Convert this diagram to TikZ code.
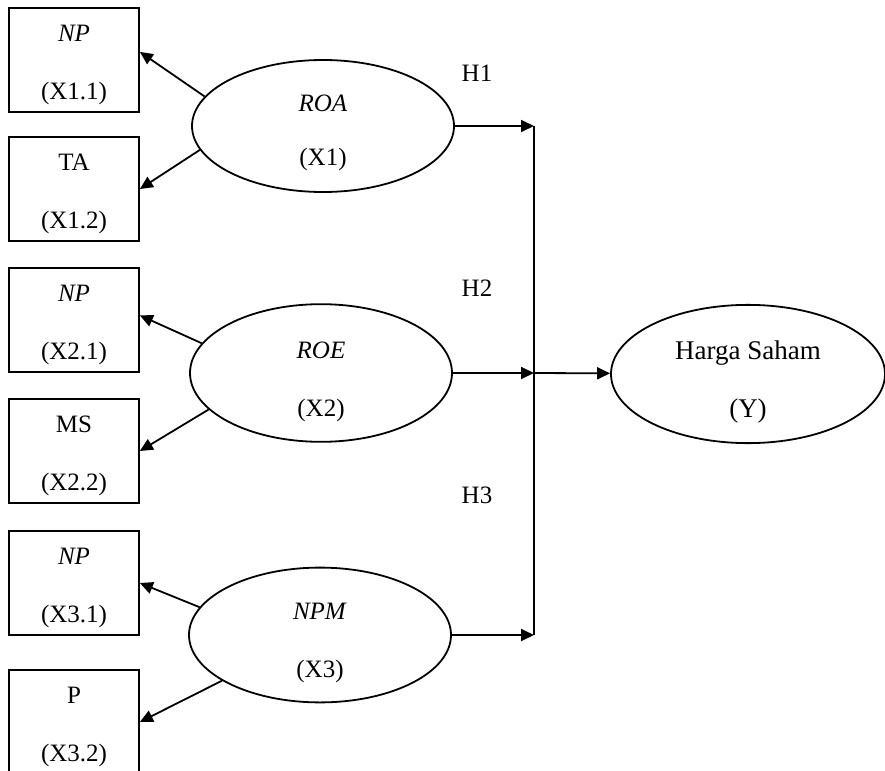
\documentclass[tikz,border=0pt]{standalone}
\usepackage{fontspec}
\setmainfont{Liberation Serif}
\usetikzlibrary{shapes.geometric,arrows.meta}
\newcommand{\lowr}[1]{\rule{0pt}{#1}}

\begin{document}
\begin{tikzpicture}[x=0.5pt,y=-0.5pt, font=\fontsize{12.5}{15}\selectfont,
    box/.style={rectangle, draw, minimum width=65pt, minimum height=52pt,
      align=center, inner sep=0pt},
    var/.style={ellipse, draw, minimum width=131pt, minimum height=66pt,
      align=center, inner sep=0pt},
    >={Triangle[length=6.5pt,width=6pt]}, line width=0.9pt]
  \useasboundingbox (0,0) rectangle (885,771);
  % indicator boxes
  \node[box] (x11) at (74,60) {\lowr{13pt}\textit{NP}\\[14pt](X1.1)};
  \node[box] (x12) at (74,189) {\lowr{13pt}TA\\[14pt](X1.2)};
  \node[box] (x21) at (74,320) {\lowr{13pt}\textit{NP}\\[14pt](X2.1)};
  \node[box] (x22) at (74,451) {\lowr{13pt}MS\\[14pt](X2.2)};
  \node[box] (x31) at (74,583) {\lowr{13pt}\textit{NP}\\[14pt](X3.1)};
  \node[box] (x32) at (74,722) {\lowr{13pt}P\\[14pt](X3.2)};
  % variables
  \node[var] (roa) at (323,126) {\lowr{15pt}\textit{ROA}\\[12pt](X1)};
  \node[var] (roe) at (321,373) {\lowr{17pt}\textit{ROE}\\[14pt](X2)};
  \node[var] (npm) at (320,635) {\lowr{16pt}\textit{NPM}\\[14pt](X3)};
  \node[var, minimum width=137pt, font=\fontsize{13.5}{16}\selectfont]
    (harga) at (748,374) {\lowr{17pt}Harga Saham\\[13pt](Y)};
  \node (h1) at (477,73) {H1};
  \node (h2) at (477,288) {H2};
  \node (h3) at (477,495) {H3};
  \coordinate (top) at (534,126);
  \coordinate (bot) at (534,635);
  \coordinate (mid) at (534,373);
  \draw (top) -- (bot);
  \draw[->] (roa) -- (top);
  \draw[->] (roe) -- (mid);
  \draw[->] (npm) -- (bot);
  \draw[->] (mid) -- (harga);
  \draw[->] (roa.166) -- (x11.7);
  \draw[->] (roa.191) -- (x12.east);
  \draw[->] (roe.166) -- (x21.4);
  \draw[->] (roe.198) -- (x22.east);
  \draw[->] (npm.167) -- (x31.east);
  \draw[->] (npm.205) -- (x32.east);
\end{tikzpicture}
\end{document}
